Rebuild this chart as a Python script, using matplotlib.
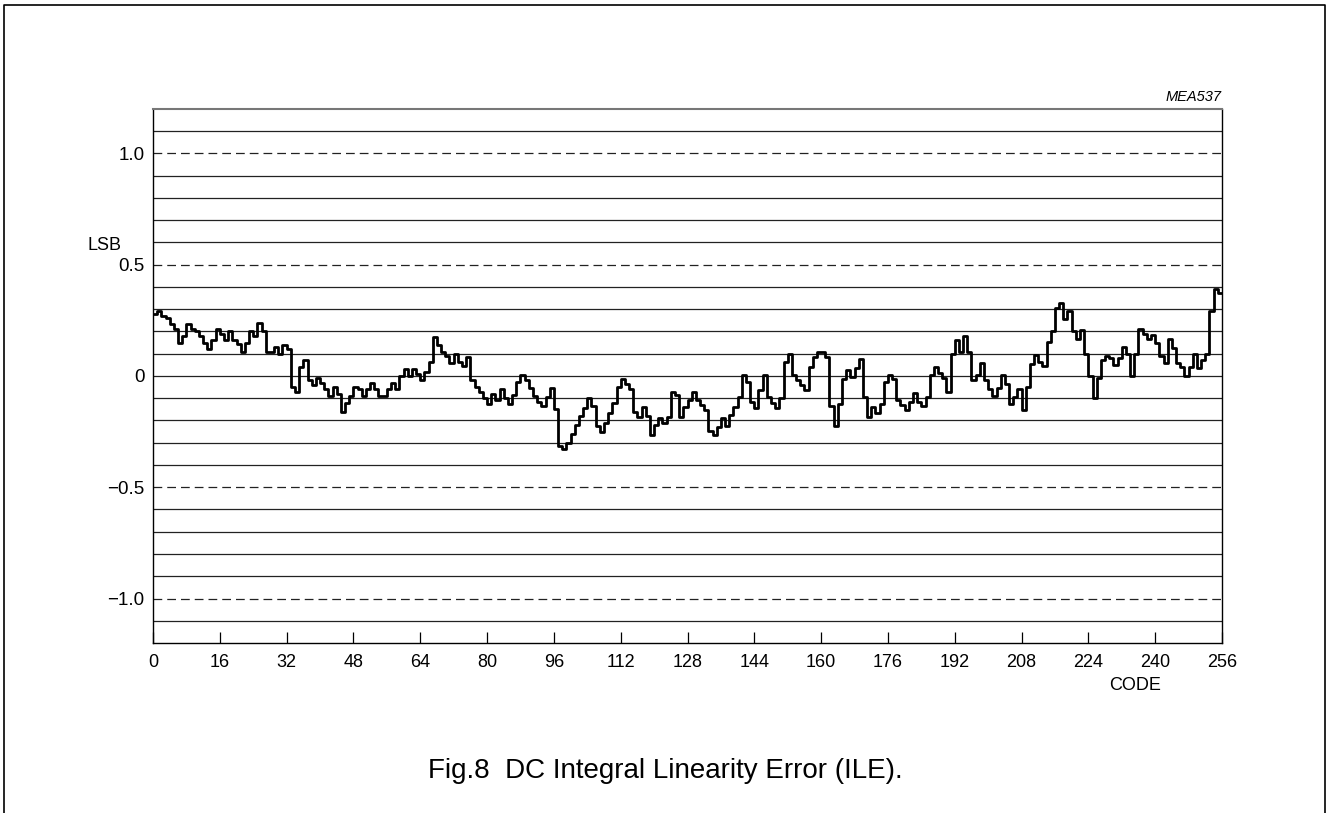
import numpy as np
import matplotlib
matplotlib.use("Agg")
import matplotlib.pyplot as plt
from matplotlib.lines import Line2D

plt.rcParams["font.family"] = ["Liberation Sans", "DejaVu Sans"]

# ----------------------------
# Data: ILE per code (LSB)
# ----------------------------
codes = np.arange(257)
ile = [
    0.28, 0.29, 0.27, 0.26, 0.235, 0.21, 0.15, 0.18,
    0.235, 0.21, 0.20, 0.18, 0.15, 0.12, 0.16, 0.21,
    0.19, 0.16, 0.20, 0.16, 0.145, 0.11, 0.15, 0.20,
    0.18, 0.24, 0.20, 0.11, 0.11, 0.13, 0.10, 0.14,
    0.12, -0.05, -0.07, 0.04, 0.07, -0.02, -0.04, -0.01,
    -0.03, -0.06, -0.09, -0.05, -0.08, -0.16, -0.12, -0.09,
    -0.05, -0.06, -0.09, -0.06, -0.03, -0.06, -0.09, -0.09,
    -0.06, -0.03, -0.06, 0.0, 0.03, 0.0, 0.03, 0.01,
    -0.02, 0.02, 0.065, 0.175, 0.14, 0.11, 0.09, 0.06,
    0.10, 0.065, 0.045, 0.085, -0.02, -0.05, -0.07, -0.10,
    -0.125, -0.08, -0.11, -0.06, -0.10, -0.125, -0.085, -0.025,
    0.005, -0.02, -0.055, -0.09, -0.115, -0.135, -0.095, -0.055,
    -0.15, -0.315, -0.33, -0.30, -0.26, -0.22, -0.18, -0.145,
    -0.10, -0.135, -0.225, -0.25, -0.21, -0.165, -0.12, -0.05,
    -0.015, -0.035, -0.06, -0.16, -0.185, -0.14, -0.18, -0.265,
    -0.22, -0.19, -0.21, -0.185, -0.07, -0.085, -0.185, -0.14,
    -0.11, -0.07, -0.11, -0.13, -0.155, -0.245, -0.265, -0.23,
    -0.19, -0.225, -0.175, -0.14, -0.095, 0.005, -0.025, -0.115,
    -0.145, -0.065, 0.005, -0.095, -0.12, -0.145, -0.10, 0.065,
    0.10, 0.005, -0.02, -0.04, -0.065, 0.04, 0.085, 0.11,
    0.11, 0.085, -0.135, -0.225, -0.125, -0.015, 0.025, -0.005,
    0.035, 0.075, -0.095, -0.185, -0.14, -0.165, -0.125, -0.025,
    0.005, -0.015, -0.11, -0.13, -0.155, -0.115, -0.075, -0.115,
    -0.135, -0.095, 0.005, 0.04, 0.015, -0.01, -0.07, 0.10,
    0.16, 0.11, 0.18, 0.11, -0.02, 0.005, 0.06, -0.02,
    -0.06, -0.09, -0.055, 0.005, -0.035, -0.125, -0.095, -0.06,
    -0.155, -0.05, 0.055, 0.095, 0.065, 0.045, 0.155, 0.20,
    0.305, 0.33, 0.255, 0.29, 0.20, 0.165, 0.205, 0.10,
    0.0, -0.10, -0.01, 0.07, 0.09, 0.08, 0.05, 0.08,
    0.13, 0.10, 0.0, 0.10, 0.21, 0.19, 0.165, 0.185,
    0.15, 0.09, 0.06, 0.165, 0.125, 0.06, 0.04, 0.0,
    0.04, 0.10, 0.035, 0.07, 0.10, 0.29, 0.39, 0.375,
]
ile_steps = ile + [ile[-1]]

x_ticks = list(range(0, 257, 16))
y_ticks = [1.0, 0.5, 0.0, -0.5, -1.0]
y_labels = ["1.0", "0.5", "0", "\u22120.5", "\u22121.0"]

# ----------------------------
# Figure
# ----------------------------
fig = plt.figure(figsize=(13.3, 8.13), dpi=100)
ax = fig.add_axes([153 / 1330, (813 - 643) / 813, (1222 - 153) / 1330, (643 - 109) / 813])

# grid: solid every 0.1, dashed at +-0.5 / +-1.0
for k in range(-11, 12):
    v = k / 10
    if k in (-10, -5, 5, 10):
        ax.axhline(v, color="#222222", lw=0.9, ls=(0, (7, 4)), zorder=1)
    else:
        ax.axhline(v, color="#222222", lw=0.9, zorder=1)

ax.step(codes, ile_steps, where="post", color="black", lw=2.0, zorder=3)

ax.set_xlim(0, 256)
ax.set_ylim(-1.2, 1.2)
ax.set_xticks(x_ticks)
ax.set_xticklabels([str(t) for t in x_ticks], fontsize=13)
ax.set_yticks(y_ticks)
ax.set_yticklabels(y_labels, fontsize=13.5)
ax.tick_params(axis="x", direction="in", length=8, width=0.9, pad=8)
ax.tick_params(axis="y", length=0, pad=6)

for s in ["left", "right", "bottom"]:
    ax.spines[s].set_linewidth(1.0)
ax.spines["top"].set_color("#777777")
ax.spines["top"].set_linewidth(1.5)

ax.text(-0.045, 0.745, "LSB", transform=ax.transAxes, fontsize=13, ha="center", va="center")
ax.text((1135 - 153) / 1069, (643 - 685) / 534, "CODE", transform=ax.transAxes,
        fontsize=13, ha="center", va="center")
ax.text(1.0, 1.022, "MEA537", transform=ax.transAxes, fontsize=10.5, style="italic", ha="right", va="center")

fig.text(665 / 1330, 1 - 771 / 813, "Fig.8  DC Integral Linearity Error (ILE).", fontsize=20, ha="center", va="center")

# outer frame (open at the bottom)
fig.add_artist(Line2D([4 / 1330, 4 / 1330, 1325 / 1330, 1325 / 1330], [0, 1 - 5 / 813, 1 - 5 / 813, 0],
                      transform=fig.transFigure, color="black", lw=1.2))

fig.savefig("out.png", dpi=100)
